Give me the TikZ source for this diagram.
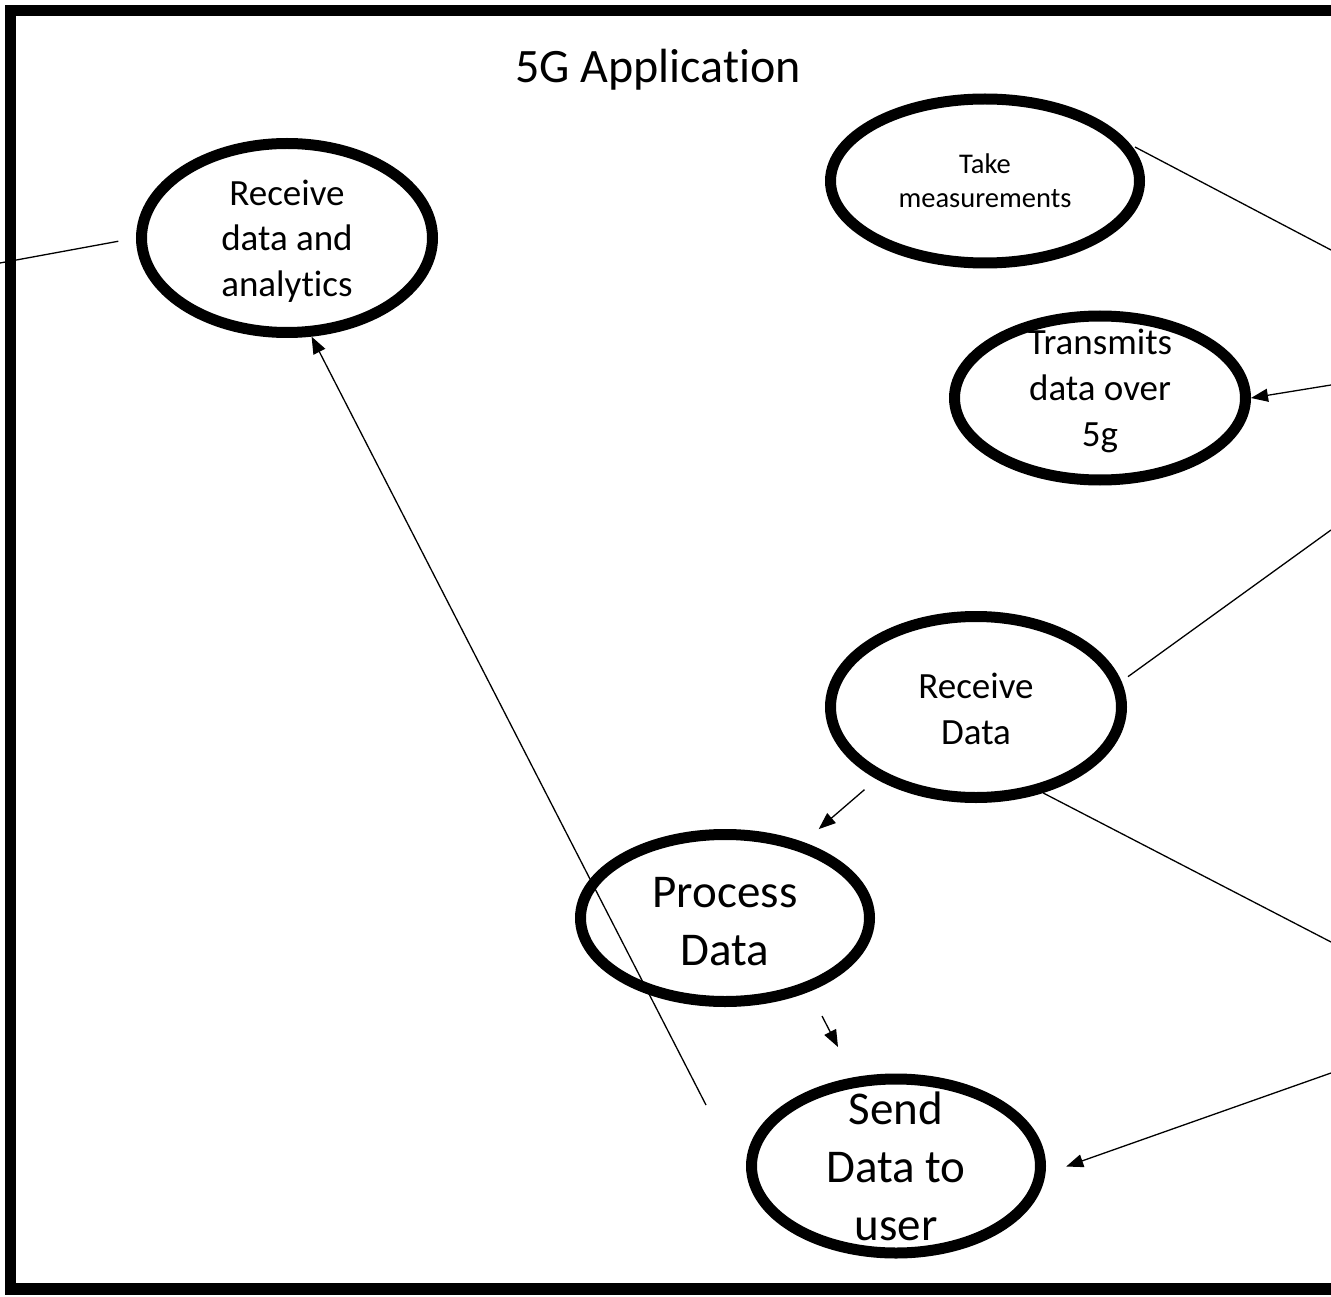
\documentclass[tikz,border=0pt]{standalone}
\usepackage{fontspec}
\setmainfont{Carlito}[Ligatures={NoCommon}, RawFeature={-liga;-clig;-dlig}]
\usetikzlibrary{shapes.geometric,arrows.meta,calc}
\begin{document}
\begin{tikzpicture}[x=1pt,y=-1pt,
  uc/.style={ellipse, draw=black, line width=11pt, inner sep=-30pt, align=center},
  conn/.style={line width=1.3pt},
  arr/.style={conn, -{Triangle[length=17pt,width=13pt]}},
  frame/.style={line width=11.5pt}]
\useasboundingbox (0,0) rectangle (1331,1297);
\clip (0,0) rectangle (1331,1297);
\fill[white] (0,0) rectangle (1331,1297);
\draw[frame] (10.5,10.5) rectangle (1400,1289);

\node[font=\fontsize{48}{58}\selectfont, anchor=base] (title) at (658,83) {5G Application};

\node[uc, minimum width=291pt, minimum height=189pt, font=\fontsize{37}{45.5}\selectfont] (A) at (287,238) {\rule{0pt}{31pt}Receive\\data and\\analytics};
\node[uc, minimum width=309pt, minimum height=164pt, font=\fontsize{28.5}{34}\selectfont] (B) at (985,181) {Take\\measurements};
\node[uc, minimum width=291pt, minimum height=164pt, font=\fontsize{37}{46}\selectfont] (C) at (1100,398) {Transmits\\data over\\5g\rule[-21pt]{0pt}{0pt}};
\node[uc, minimum width=291pt, minimum height=181pt, font=\fontsize{37}{46}\selectfont] (D) at (976,707) {\rule{0pt}{29pt}Receive\\Data};
\node[uc, minimum width=289pt, minimum height=167pt, font=\fontsize{47}{58}\selectfont] (E) at (725,918) {\rule{0pt}{38pt}Process\\Data};
\node[uc, minimum width=289pt, minimum height=174pt, font=\fontsize{47}{58}\selectfont] (F) at (896,1166) {Send\\Data to\\user};

\coordinate (L1) at (0,263);
\coordinate (R2) at (1331,250);
\coordinate (R3) at (1331,385);
\coordinate (R4) at (1331,530);
\coordinate (R7) at (1331,942);
\coordinate (R8) at (1331,1073);
\coordinate (S9) at (706,1105);

\draw[conn, shorten >=18pt] (L1) -- (A.west);
\draw[conn, shorten <=5pt] (B.14) -- (R2);
\draw[arr] (R3) -- (C.east);
\draw[conn, shorten <=8pt] (D.10) -- (R4);
\draw[arr, shorten <=16pt, shorten >=20pt] (D.216) -- (E.44);
\draw[arr] ($(E.center)+(97,98)$) -- ($(F.center)+(-58,-119)$);
\draw[conn] (D.-52) -- (R7);
\draw[arr, shorten >=22pt] (R8) -- (F.-3);
\draw[arr] (S9) -- (A.-76);
\end{tikzpicture}
\end{document}
